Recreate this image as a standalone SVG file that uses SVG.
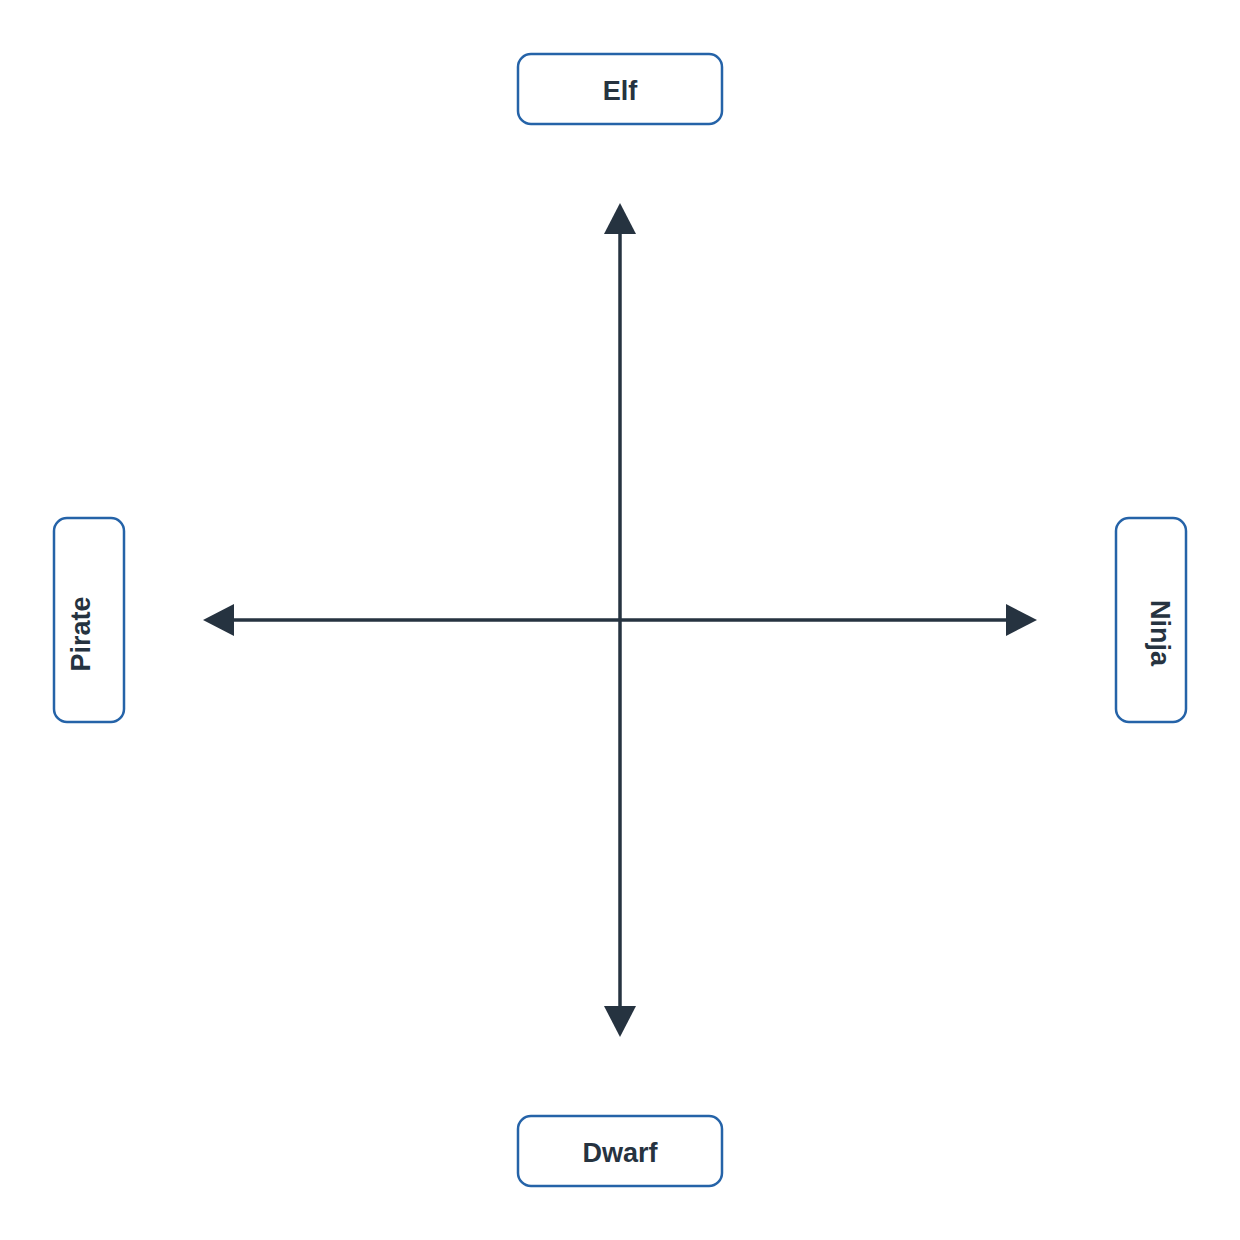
<svg xmlns="http://www.w3.org/2000/svg" width="1240" height="1240" viewBox="0 0 1240 1240">
<style>
.box{fill:#ffffff;stroke:#2563a8;stroke-width:2.5}
.lbl{font-family:"Liberation Sans",Arial,sans-serif;font-weight:bold;font-size:27px;fill:#263340;text-anchor:middle}
.axis{stroke:#263340;stroke-width:3.5;fill:none}
</style>
<defs>
<marker id="ah" viewBox="0 0 10 10" refX="1" refY="5" markerWidth="9" markerHeight="9" markerUnits="userSpaceOnUse" orient="auto">
<path d="M0,0 L10,5 L0,10 Z" fill="#263340"/>
</marker>
</defs>
<rect width="1240" height="1240" fill="#ffffff"/>
<g id="connectors">
<line class="axis" x1="620" y1="232" x2="620" y2="1008"/>
<line class="axis" x1="232" y1="620" x2="1008" y2="620"/>
<path d="M620,203 L636,234 L604,234 Z" fill="#263340"/>
<path d="M620,1037 L636,1006 L604,1006 Z" fill="#263340"/>
<path d="M203,620 L234,604 L234,636 Z" fill="#263340"/>
<path d="M1037,620 L1006,604 L1006,636 Z" fill="#263340"/>
</g>
<g id="elf">
<rect class="box" x="518" y="54" width="204" height="70" rx="13"/>
<text class="lbl" x="620" y="100">Elf</text>
</g>
<g id="dwarf">
<rect class="box" x="518" y="1116" width="204" height="70" rx="13"/>
<text class="lbl" x="620" y="1162">Dwarf</text>
</g>
<g id="pirate">
<rect class="box" x="54" y="518" width="70" height="204" rx="13"/>
<text class="lbl" transform="translate(90,634) rotate(-90)">Pirate</text>
</g>
<g id="ninja">
<rect class="box" x="1116" y="518" width="70" height="204" rx="13"/>
<text class="lbl" transform="translate(1151,633) rotate(90)">Ninja</text>
</g>
</svg>
